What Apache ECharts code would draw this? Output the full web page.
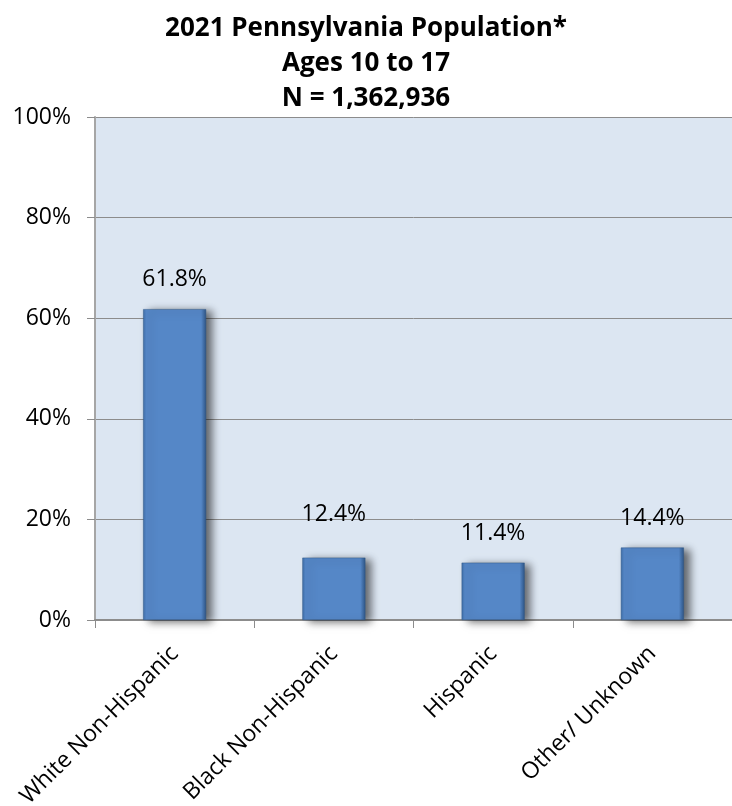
<!DOCTYPE html>
<html>
<head>
<meta charset="utf-8">
<script src="https://cdn.jsdelivr.net/npm/echarts@6/dist/echarts.min.js"></script>
<style>
html,body{margin:0;padding:0;background:#fff;}
#chart{width:732px;height:806px;}
</style>
</head>
<body>
<div id="chart"></div>
<script>
const titleLines = ['2021 Pennsylvania Population*', 'Ages 10 to 17', 'N = 1,362,936'];
const categories = ['White Non-Hispanic', 'Black Non-Hispanic', 'Hispanic', 'Other/ Unknown'];
const values = [61.8, 12.4, 11.4, 14.4];
const yTicks = [0, 20, 40, 60, 80, 100];

const chart = echarts.init(document.getElementById('chart'));
const FONT = 'Open Sans';
chart.setOption({
  animation: false,
  backgroundColor: '#ffffff',
  title: {
    text: titleLines.join('\n'),
    left: 'center',
    top: 6,
    textStyle: { fontFamily: FONT, fontWeight: 'bold', fontSize: 26, lineHeight: 35, color: '#000' }
  },
  grid: {
    left: 95, right: 0, top: 117, bottom: 186,
    containLabel: false, outerBoundsMode: 'none',
    show: true, backgroundColor: '#DCE6F2', borderWidth: 0
  },
  xAxis: {
    type: 'category',
    data: categories,
    axisLine: { lineStyle: { color: '#8c8c8c', width: 2 } },
    axisTick: { show: true, length: 8, lineStyle: { color: '#8c8c8c' } },
    axisLabel: {
      rotate: 45, fontFamily: FONT, fontSize: 23, color: '#000', margin: 30,
      padding: [16, 0, 0, 0]
    }
  },
  yAxis: {
    type: 'value',
    min: 0, max: 100, interval: 20,
    axisLine: { show: true, lineStyle: { color: '#a6a6a6', width: 2 } },
    axisTick: { show: true, length: 8, lineStyle: { color: '#8c8c8c' } },
    splitLine: { show: true, lineStyle: { color: '#8c8c8c', width: 1 } },
    axisLabel: {
      fontFamily: FONT, fontSize: 23, color: '#000', margin: 24,
      formatter: v => yTicks.includes(v) ? v + '%' : ''
    }
  },
  series: [{
    type: 'bar',
    data: values.map((v, i) => i === 1 ? { value: v, label: { distance: 32 } } : v),
    barWidth: 63,
    itemStyle: {
      color: new echarts.graphic.LinearGradient(0, 0, 1, 0, [
        { offset: 0, color: '#3f6ea8' },
        { offset: 0.05, color: '#5587c7' },
        { offset: 0.92, color: '#5587c7' },
        { offset: 1, color: '#2f5687' }
      ]),
      borderColor: '#2f5687',
      borderWidth: 0.5,
      shadowColor: 'rgba(0,0,0,0.55)',
      shadowBlur: 8,
      shadowOffsetX: 6,
      shadowOffsetY: 2
    },
    label: {
      show: true,
      position: 'top',
      distance: 18,
      fontFamily: FONT,
      fontSize: 23,
      color: '#000',
      formatter: p => p.value.toFixed(1) + '%'
    }
  }]
});
</script>
</body>
</html>
